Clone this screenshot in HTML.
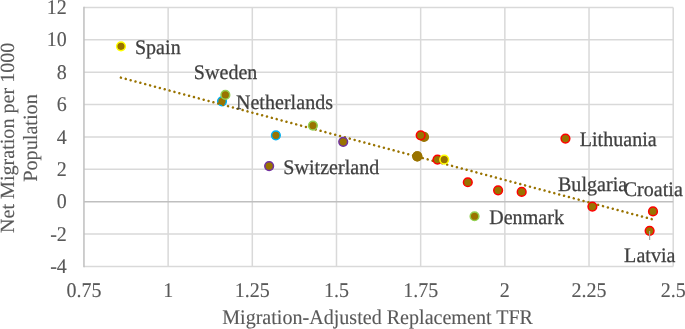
<!DOCTYPE html>
<html><head><meta charset="utf-8"><title>chart</title>
<style>html,body{margin:0;padding:0;background:#fff;overflow:hidden}svg{display:block;will-change:transform}text{font-family:"Liberation Serif",serif;font-size:20px;text-rendering:geometricPrecision}</style></head>
<body>
<svg width="685" height="329" viewBox="0 0 685 329">
<rect width="685" height="329" fill="#fff"/>
<g stroke="#d9d9d9" stroke-width="1.5" fill="none">
<line x1="83.95" x2="673.20" y1="7.50" y2="7.50"/>
<line x1="83.95" x2="673.20" y1="39.86" y2="39.86"/>
<line x1="83.95" x2="673.20" y1="72.22" y2="72.22"/>
<line x1="83.95" x2="673.20" y1="104.59" y2="104.59"/>
<line x1="83.95" x2="673.20" y1="136.95" y2="136.95"/>
<line x1="83.95" x2="673.20" y1="169.31" y2="169.31"/>
<line x1="83.95" x2="673.20" y1="234.04" y2="234.04"/>
<line x1="83.95" x2="673.20" y1="266.40" y2="266.40"/>
<line x1="168.13" x2="168.13" y1="7.50" y2="266.40"/>
<line x1="252.31" x2="252.31" y1="7.50" y2="266.40"/>
<line x1="336.49" x2="336.49" y1="7.50" y2="266.40"/>
<line x1="420.66" x2="420.66" y1="7.50" y2="266.40"/>
<line x1="504.84" x2="504.84" y1="7.50" y2="266.40"/>
<line x1="589.02" x2="589.02" y1="7.50" y2="266.40"/>
<line x1="673.20" x2="673.20" y1="7.50" y2="266.40"/>
</g>
<g stroke="#bfbfbf" stroke-width="1.5" fill="none">
<line x1="83.95" x2="673.20" y1="201.67" y2="201.67"/>
<line x1="83.95" x2="83.95" y1="6.75" y2="267.15"/>
</g>
<g fill="#595959" stroke="#595959" stroke-width="0.12" text-anchor="end">
<text transform="translate(66.8,13.90) scale(1,1.045)">12</text>
<text transform="translate(66.8,46.31) scale(1,1.045)">10</text>
<text transform="translate(66.8,78.72) scale(1,1.045)">8</text>
<text transform="translate(66.8,111.14) scale(1,1.045)">6</text>
<text transform="translate(66.8,143.55) scale(1,1.045)">4</text>
<text transform="translate(66.8,175.96) scale(1,1.045)">2</text>
<text transform="translate(66.8,208.38) scale(1,1.045)">0</text>
<text transform="translate(66.8,240.79) scale(1,1.045)">-2</text>
<text transform="translate(66.8,273.20) scale(1,1.045)">-4</text>
</g>
<g fill="#595959" stroke="#595959" stroke-width="0.12" text-anchor="middle">
<text transform="translate(83.95,296.7) scale(1,1.045)">0.75</text>
<text transform="translate(168.13,296.7) scale(1,1.045)">1</text>
<text transform="translate(252.31,296.7) scale(1,1.045)">1.25</text>
<text transform="translate(336.49,296.7) scale(1,1.045)">1.5</text>
<text transform="translate(420.66,296.7) scale(1,1.045)">1.75</text>
<text transform="translate(504.84,296.7) scale(1,1.045)">2</text>
<text transform="translate(589.02,296.7) scale(1,1.045)">2.25</text>
<text transform="translate(673.20,296.7) scale(1,1.045)">2.5</text>
<text style="font-size:20.08px" transform="translate(377.6,324.1) scale(1,1.035)">Migration-Adjusted Replacement TFR</text>
<text style="font-size:20.1px" transform="translate(14.4,137.8) rotate(-90)">Net Migration per 1000</text>
<text style="font-size:20.2px" transform="translate(37.2,138.0) rotate(-90)">Population</text>
</g>
<circle cx="417.30" cy="156.37" r="4.35" fill="#997300" stroke="#997300" stroke-width="1.5"/>
<circle cx="424.03" cy="136.95" r="4.35" fill="#997300" stroke="#997300" stroke-width="1.5"/>
<circle cx="222.00" cy="101.35" r="4.35" fill="#997300" stroke="#00b0f0" stroke-width="1.5"/>
<circle cx="275.88" cy="135.33" r="4.35" fill="#997300" stroke="#00b0f0" stroke-width="1.5"/>
<line x1="120.9" y1="77.6" x2="652.8" y2="219.4" stroke="#997300" stroke-width="2.5" stroke-linecap="round" stroke-dasharray="0.01 5.03"/>
<circle cx="417.30" cy="156.37" r="4.35" fill="#997300" stroke="#997300" stroke-width="1.5"/>
<circle cx="225.37" cy="94.88" r="4.35" fill="#997300" stroke="#92d050" stroke-width="1.5"/>
<circle cx="312.92" cy="125.62" r="4.35" fill="#997300" stroke="#92d050" stroke-width="1.5"/>
<circle cx="474.54" cy="216.24" r="4.35" fill="#997300" stroke="#92d050" stroke-width="1.5"/>
<circle cx="343.22" cy="141.80" r="4.35" fill="#997300" stroke="#7030a0" stroke-width="1.5"/>
<circle cx="269.14" cy="166.08" r="4.35" fill="#997300" stroke="#7030a0" stroke-width="1.5"/>
<circle cx="420.66" cy="135.33" r="4.35" fill="#997300" stroke="#ff0000" stroke-width="1.5"/>
<circle cx="437.50" cy="159.60" r="4.35" fill="#997300" stroke="#ff0000" stroke-width="1.5"/>
<circle cx="467.80" cy="182.26" r="4.35" fill="#997300" stroke="#ff0000" stroke-width="1.5"/>
<circle cx="498.11" cy="190.35" r="4.35" fill="#997300" stroke="#ff0000" stroke-width="1.5"/>
<circle cx="521.68" cy="191.97" r="4.35" fill="#997300" stroke="#ff0000" stroke-width="1.5"/>
<circle cx="565.45" cy="138.57" r="4.35" fill="#997300" stroke="#ff0000" stroke-width="1.5"/>
<circle cx="592.39" cy="206.53" r="4.35" fill="#997300" stroke="#ff0000" stroke-width="1.5"/>
<circle cx="653.00" cy="211.38" r="4.35" fill="#997300" stroke="#ff0000" stroke-width="1.5"/>
<circle cx="649.63" cy="230.80" r="4.35" fill="#997300" stroke="#ff0000" stroke-width="1.5"/>
<circle cx="120.99" cy="46.34" r="4.35" fill="#997300" stroke="#ffff00" stroke-width="1.5"/>
<circle cx="444.23" cy="159.60" r="4.35" fill="#997300" stroke="#ffff00" stroke-width="1.5"/>
<line x1="649.63" x2="649.63" y1="231.10" y2="240.00" stroke="#a6a6a6" stroke-width="1.2"/>
<g fill="#404040" stroke="#404040" stroke-width="0.25" style="font-size:20.2px;letter-spacing:0.05px">
<text transform="translate(134.90,53.60) scale(1,1.035)">Spain</text>
<text transform="translate(235.90,108.80) scale(1,1.035)">Netherlands</text>
<text transform="translate(283.30,173.70) scale(1,1.035)">Switzerland</text>
<text transform="translate(579.70,145.50) scale(1,1.035)">Lithuania</text>
<text transform="translate(489.20,223.70) scale(1,1.035)">Denmark</text>
<text transform="translate(225.60,78.60) scale(1,1.035)" text-anchor="middle">Sweden</text>
<text transform="translate(592.60,190.80) scale(1,1.035)" text-anchor="middle">Bulgaria</text>
<text transform="translate(653.30,195.60) scale(1,1.035)" text-anchor="middle">Croatia</text>
<text transform="translate(649.80,261.50) scale(1,1.035)" text-anchor="middle">Latvia</text>
</g>
</svg>
</body></html>
